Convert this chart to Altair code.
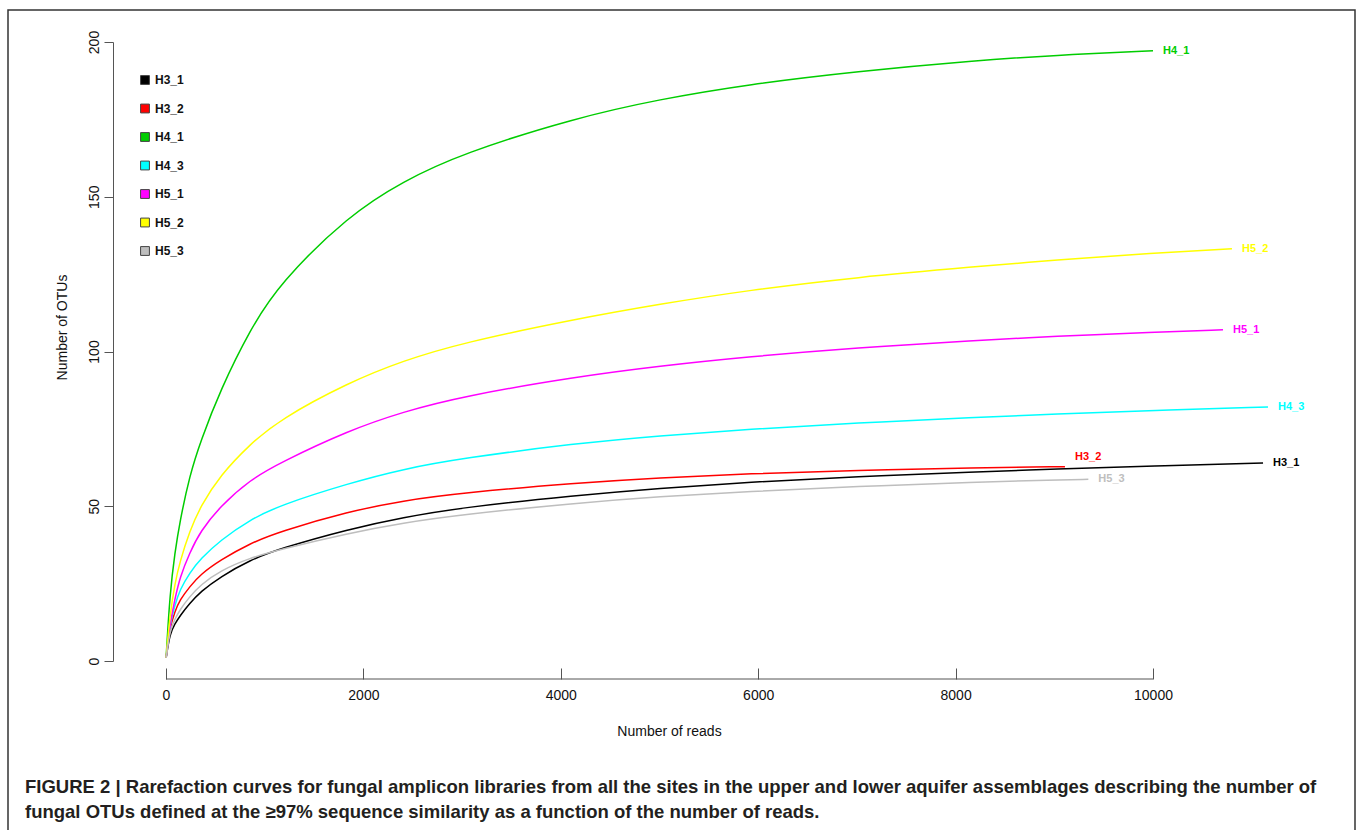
import altair as alt
import pandas as pd

# ---------------- data ----------------
SERIES = ["H3_1", "H3_2", "H4_1", "H4_3", "H5_1", "H5_2", "H5_3"]
COLORS = ["#000000", "#FF0000", "#00CD00", "#00FFFF", "#FF00FF", "#FFFF00", "#BEBEBE"]

READS = [1, 40, 90, 140, 240, 350, 550, 850, 1150, 1850, 2400, 3000, 4150,
         5000, 5900, 7000, 8200, 9000, 10000]

H3_1 = [1, 8.9, 12, 14.5, 18.6, 22.4, 27.2, 32.6, 36.3, 42.6, 46.4, 49.6, 53.5,
        55.8, 57.8, 59.6, 61.1, 62.0, 63.0]
H3_2 = [1, 11, 16, 19.7, 24, 28, 32.6, 38, 41.8, 48.3, 51.8, 54.3, 57.5,
        59.2, 60.5, 61.6, 62.4, None, None]
H4_1 = [1, 22, 35, 45, 60, 71, 87.5, 107, 122, 144, 155, 164, 175.5,
        181.5, 186.3, 190.5, 194, 195.7, 197.2]
H4_3 = [1, 12, 18, 23, 28.5, 33, 39, 45.6, 50.3, 57.4, 62, 65.5, 70.3,
        72.8, 74.9, 76.9, 78.7, 79.8, 80.9]
H5_1 = [1, 12, 20, 27, 35, 42, 50, 58.5, 64, 74.5, 80.5, 85.5, 91.8,
        95.3, 98.3, 101.2, 103.6, 104.9, 106.2]
H5_2 = [1, 15, 25, 32, 42, 50, 60, 70, 78, 90, 97, 102.8, 110.5,
        115.3, 119.8, 124, 127.4, 129.5, 131.8]
H5_3 = [1, 10, 13.5, 16.5, 20.8, 24.6, 29.2, 33.3, 36.0, 41.3, 44.6, 47.3, 51,
        53.1, 54.8, 56.4, 57.8, 58.5, None]

END_READS = [11115, 9108, 10000, 11165, 10709, 10800, 9345]
END_OTUS = [64.0, 62.8, 197.2, 82.1, 107.0, 133.2, 58.7]

X_TICKS = [0, 2000, 4000, 6000, 8000, 10000]
Y_TICKS = [0, 50, 100, 150, 200]

CAPTION = [
    "FIGURE 2 | Rarefaction curves for fungal amplicon libraries from all the sites in the upper and lower aquifer assemblages describing the number of",
    "fungal OTUs defined at the \u226597% sequence similarity as a function of the number of reads.",
]

# ---------------- build tables ----------------
VALUES = [H3_1, H3_2, H4_1, H4_3, H5_1, H5_2, H5_3]
rows = []
for name, vals, er, eo in zip(SERIES, VALUES, END_READS, END_OTUS):
    for r, v in zip(READS, vals):
        if v is not None and r < er:
            rows.append({"sample": name, "reads": r, "otus": v})
    rows.append({"sample": name, "reads": er, "otus": eo})
df = pd.DataFrame(rows)

ends = pd.DataFrame({"sample": SERIES, "reads": END_READS, "otus": END_OTUS})
ends_main = ends[ends["sample"] != "H3_2"]
ends_up = ends[ends["sample"] == "H3_2"]
legend_df = pd.DataFrame({"sample": SERIES})

FONT = "Liberation Sans"
AXIS_GREY = "#555555"
COLOR_SCALE = alt.Scale(domain=SERIES, range=COLORS)

x_enc = alt.X(
    "reads:Q",
    scale=alt.Scale(domain=[0, 10000], nice=False, zero=False),
    axis=alt.Axis(
        values=X_TICKS, format="d", domain=False, grid=False,
        tickSize=11, tickColor=AXIS_GREY, tickWidth=1, offset=7,
        labelFont=FONT, labelFontSize=14, labelColor="#111111", labelPadding=9,
        labelFlush=False,
        title="Number of reads", titleFont=FONT, titleFontSize=14,
        titleFontWeight="normal", titleColor="#111111",
        titleX=503, titleY=63, titleBaseline="middle", titleAlign="center",
    ),
)
y_enc = alt.Y(
    "otus:Q",
    scale=alt.Scale(domain=[0, 200], nice=False, zero=False),
    axis=alt.Axis(
        values=Y_TICKS, format="d", grid=False,
        domain=True, domainColor=AXIS_GREY, domainWidth=1,
        tickSize=9, tickColor=AXIS_GREY, tickWidth=1, offset=53,
        labelFont=FONT, labelFontSize=14, labelColor="#111111",
        labelAngle=270, labelAlign="center", labelBaseline="bottom", labelPadding=3,
        labelFlush=False,
        title="Number of OTUs", titleFont=FONT, titleFontSize=14,
        titleFontWeight="normal", titleColor="#111111",
        titleAngle=270, titleX=-51, titleY=285, titleBaseline="middle", titleAlign="center",
    ),
)

lines = alt.Chart(df).mark_line(interpolate="basis", strokeWidth=1.5).encode(
    x=x_enc,
    y=y_enc,
    color=alt.Color("sample:N", scale=COLOR_SCALE, legend=None),
    detail="sample:N",
)

labels = alt.Chart(ends_main).mark_text(
    align="left", baseline="middle", dx=10, font=FONT, fontWeight="bold", fontSize=11
).encode(
    x="reads:Q", y="otus:Q", text="sample:N",
    color=alt.Color("sample:N", scale=COLOR_SCALE, legend=None),
)
labels_up = alt.Chart(ends_up).mark_text(
    align="left", baseline="middle", dx=10, dy=-10, font=FONT, fontWeight="bold", fontSize=11
).encode(
    x="reads:Q", y="otus:Q", text="sample:N",
    color=alt.Color("sample:N", scale=COLOR_SCALE, legend=None),
)

x_axis_line = alt.Chart(pd.DataFrame({"a": [0], "b": [10000]})).mark_rule(
    color=AXIS_GREY, strokeWidth=1
).encode(x="a:Q", x2="b:Q", y=alt.value(637))

one = alt.Data(values=[{"k": 1}])
border = alt.Chart(one).mark_rect(
    fillOpacity=0, stroke="#333333", strokeWidth=1.5
).encode(x=alt.value(-158), x2=alt.value(1189), y=alt.value(-32), y2=alt.value(820))

cap1 = alt.Chart(one).mark_text(
    align="left", baseline="middle", font=FONT, fontWeight="bold", fontSize=18.5,
    color="#231f20", text=CAPTION[0]
).encode(x=alt.value(-141), y=alt.value(745))
cap2 = alt.Chart(one).mark_text(
    align="left", baseline="middle", font=FONT, fontWeight="bold", fontSize=18.5,
    color="#231f20", text=CAPTION[1]
).encode(x=alt.value(-141), y=alt.value(770))

main = alt.layer(border, lines, x_axis_line, labels, labels_up, cap1, cap2)

# ---- hand-made legend (filled squares with grey outline) ----
leg_y = alt.Y("sample:N", sort=SERIES,
              scale=alt.Scale(type="point", domain=SERIES, range=[38, 209], padding=0),
              axis=None)
leg_sq = alt.Chart(legend_df).mark_square(
    size=78, filled=True, opacity=1, stroke="#444444", strokeWidth=1
).encode(
    x=alt.value(-21), y=leg_y,
    fill=alt.Fill("sample:N", scale=COLOR_SCALE, legend=None),
)
leg_tx = alt.Chart(legend_df).mark_text(
    align="left", baseline="middle", font=FONT, fontWeight="bold", fontSize=12,
    color="#111111"
).encode(x=alt.value(-11), y=leg_y, text="sample:N")
legend_layer = alt.layer(leg_sq, leg_tx)

chart = alt.layer(main, legend_layer).resolve_scale(y="independent").properties(
    width=987, height=619,
    autosize=alt.AutoSizeParams(type="none"),
    padding={"left": 166, "top": 42, "right": 205, "bottom": 169},
    background="white",
).configure_view(stroke=None)

chart.save("out.html", embed_options={"renderer": "svg", "actions": False})
